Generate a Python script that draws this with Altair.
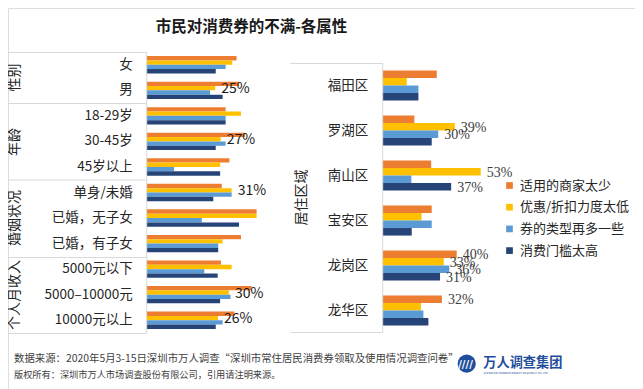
import altair as alt
import pandas as pd

# ---------------- data ----------------
series = ["适用的商家太少", "优惠/折扣力度太低", "券的类型再多一些", "消费门槛太高"]
colors = ["#ED7D31", "#FFC000", "#5B9BD5", "#264478"]

left_cats = ["女", "男", "18-29岁", "30-45岁", "45岁以上", "单身/未婚",
             "已婚，无子女", "已婚，有子女", "5000元以下", "5000–10000元", "10000元以上"]
left_s1 = [32.8, 33.7, 28.8, 35.9, 30.2, 27.4, 40.1, 34.4, 27.1, 38.3, 32.0]
left_s2 = [31.2, 25.0, 34.4, 27.0, 26.8, 31.0, 40.1, 27.7, 31.0, 30.0, 26.0]
left_s3 = [28.8, 23.1, 28.8, 28.8, 10.0, 31.0, 20.1, 26.1, 21.0, 30.6, 27.7]
left_s4 = [25.2, 27.7, 28.8, 25.2, 26.8, 24.3, 33.7, 26.1, 25.9, 26.8, 25.2]
left_l2 = ["", "25%", "", "27%", "", "31%", "", "", "", "30%", "26%"]

left_groups = ["性别", "年龄", "婚姻状况", "个人月收入"]

right_cats = ["福田区", "罗湖区", "南山区", "宝安区", "龙岗区", "龙华区"]
right_s1 = [29.2, 17.1, 26.2, 26.5, 40.0, 32.0]
right_s2 = [13.0, 39.0, 53.0, 21.0, 33.0, 20.7]
right_s3 = [19.3, 30.0, 15.5, 26.5, 36.0, 22.0]
right_s4 = [19.3, 26.5, 37.0, 15.7, 31.0, 24.7]
right_l1 = ["", "", "", "", "40%", "32%"]
right_l2 = ["", "39%", "53%", "", "33%", ""]
right_l3 = ["", "30%", "", "", "36%", ""]
right_l4 = ["", "", "37%", "", "31%", ""]

right_group = "居住区域"
title_text = "市民对消费券的不满-各属性"
footer1 = "数据来源：2020年5月3-15日深圳市万人调查“深圳市常住居民消费券领取及使用情况调查问卷”"
footer2 = "版权所有：深圳市万人市场调查股份有限公司，引用请注明来源。"
logo_text = "万人调查集团"

CJK = "Noto Sans CJK SC"


def long_df(cats, vals, labs):
    rows = []
    for si, s in enumerate(series):
        for ci, c in enumerate(cats):
            rows.append({"cat": c, "series": s, "value": vals[si][ci], "label": labs[si][ci]})
    return pd.DataFrame(rows)


empty = [""] * len(left_cats)
left_df = long_df(left_cats, [left_s1, left_s2, left_s3, left_s4], [empty, left_l2, empty, empty])
right_df = long_df(right_cats, [right_s1, right_s2, right_s3, right_s4],
                   [right_l1, right_l2, right_l3, right_l4])

legend = alt.Legend(title=None, orient="none", legendX=495, legendY=171,
                    symbolType="square", symbolSize=45, symbolStrokeWidth=0,
                    labelFont=CJK, labelFontSize=13, labelColor="#262626",
                    labelOffset=4, rowPadding=7.7, padding=0, labelLimit=300)
color = alt.Color("series:N", scale=alt.Scale(domain=series, range=colors), legend=legend)


def panel(df, cats, xdom, xrange, yrange, pin, pout, label_x, label_font, label_color):
    xs = alt.Scale(domain=xdom, range=xrange, nice=False, zero=True)
    ys = alt.Scale(domain=cats, range=yrange, paddingInner=pin, paddingOuter=pout)
    yo = alt.Scale(domain=series, paddingInner=0, paddingOuter=0)
    base = alt.Chart(df)
    bars = base.mark_bar().encode(
        x=alt.X("value:Q", scale=xs, axis=None),
        y=alt.Y("cat:N", scale=ys, axis=None),
        yOffset=alt.YOffset("series:N", scale=yo),
        color=color,
    )
    labels = base.transform_filter(alt.datum.label != "").mark_text(
        align="left", baseline="middle", dx=6, dy=1,
        font=label_font, fontSize=14, color=label_color,
    ).encode(
        x=alt.X("value:Q", scale=xs, axis=None),
        y=alt.Y("cat:N", scale=ys, axis=None),
        yOffset=alt.YOffset("series:N", scale=yo),
        text="label:N",
    )
    cat_df = pd.DataFrame({"cat": cats})
    cat_text = alt.Chart(cat_df).mark_text(
        align="right", baseline="middle", font=CJK, fontSize=13.5, color="#262626",
    ).encode(
        x=alt.value(label_x),
        y=alt.Y("cat:N", scale=ys, axis=None),
        text="cat:N",
    )
    return alt.layer(bars, labels, cat_text)


left = panel(left_df, left_cats, [0, 50], [138.7, 275.7], [44, 325], 0.32, 0.16,
             124.7, CJK, "#1a1a1a")
right = panel(right_df, right_cats, [0, 60], [374.7, 485.7], [55, 325], 0.33, 0.165,
              360.3, "Liberation Serif", "#404040")

one = pd.DataFrame({"k": [0]})
GRID = "#D9D9D9"


def hline(x1, x2, y):
    return alt.Chart(one).mark_rule(color=GRID, strokeWidth=1).encode(
        x=alt.value(x1), x2=alt.value(x2), y=alt.value(y))


def vline(x, y1, y2):
    return alt.Chart(one).mark_rule(color=GRID, strokeWidth=1).encode(
        x=alt.value(x), y=alt.value(y1), y2=alt.value(y2))


def txt(s, x, y, **kw):
    return alt.Chart(one).mark_text(text=s, **kw).encode(x=alt.value(x), y=alt.value(y))


decor = [
    hline(0, 138.7, 44.5), hline(0, 138.7, 95.5), hline(0, 138.7, 172),
    hline(0, 138.7, 249.5), hline(0, 138.7, 325.5),
    vline(138.7, 44.5, 325.5),
    hline(282, 374.7, 55.5), hline(282, 374.7, 324.5),
    vline(374.7, 55.5, 324.5),
]
gy = [69.5, 134, 210, 287]
for g, y in zip(left_groups, gy):
    decor.append(txt(g, 6.5, y, angle=270, align="center", baseline="middle",
                     font=CJK, fontSize=14, color="#262626"))
decor.append(txt(right_group, 294.3, 189.5, angle=270, align="center", baseline="middle",
                 font=CJK, fontSize=14, color="#262626"))
decor.append(txt(title_text, 243.5, 18.5, align="center", baseline="middle",
                 font=CJK, fontSize=15.5, fontWeight="bold", color="#1a1a1a"))
decor.append(txt(footer1, 6, 351, align="left", baseline="middle",
                 font=CJK, fontSize=10.4, color="#404040"))
decor.append(txt(footer2, 6, 366.5, align="left", baseline="middle",
                 font=CJK, fontSize=9.2, color="#404040"))
# logo
decor.append(alt.Chart(one).mark_point(shape="circle", filled=True, size=330,
                                       color="#1F4E9C", opacity=1).encode(
    x=alt.value(458.7), y=alt.value(355.7)))
decor.append(txt("////", 457.5, 357, align="center", baseline="middle",
                 font="DejaVu Sans", fontSize=10, fontWeight="bold", color="white"))
decor.append(txt(logo_text, 475.3, 355.2, align="left", baseline="middle",
                 font=CJK, fontSize=13.2, fontWeight="bold", color="#1F4E9C"))
decor.append(txt("SHENZHEN WANREN MARKET RESEARCH CO.,LTD", 475.5, 365.5, align="left",
                 baseline="middle", font="DejaVu Sans", fontSize=2.6, color="#1F4E9C"))

chart = alt.layer(left, right, *decor).resolve_scale(
    x="independent", y="independent", yOffset="independent"
).properties(
    width=627, height=381, autosize=alt.AutoSizeParams(type="none"), padding=0,
).configure_view(stroke=None).configure(background="white")

chart.save("out.html", embed_options={"renderer": "svg", "actions": False})
